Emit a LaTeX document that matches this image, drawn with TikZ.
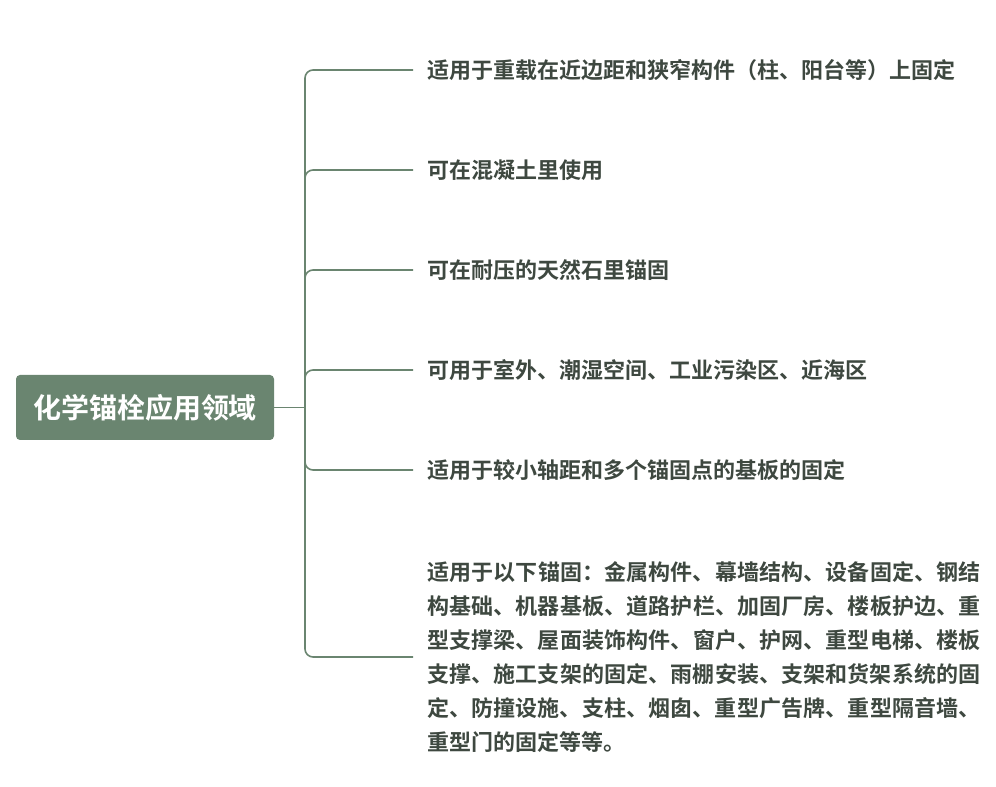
\documentclass[tikz,border=0pt]{standalone}
\usepackage{fontspec}
\setmainfont{Noto Sans CJK SC}[BoldFont={Noto Sans CJK SC Bold}]
\XeTeXlinebreaklocale "zh"
\XeTeXlinebreakskip=0pt plus 1pt
\definecolor{rootc}{RGB}{106,133,112}
\definecolor{linec}{RGB}{106,133,112}
\definecolor{txtc}{RGB}{62,72,64}
\begin{document}
\begin{tikzpicture}[x=0.75pt,y=-0.75pt,
  leaf/.style={anchor=west,inner sep=0pt,text=txtc,font=\fontsize{16.5pt}{25.5pt}\selectfont\bfseries},
  conn/.style={draw=linec,line width=1.2pt,rounded corners=6pt}]
\useasboundingbox (0,0) rectangle (996,787);
\node[fill=rootc,rounded corners=3pt,minimum width=258*0.75pt,minimum height=65*0.75pt,text=white,font=\fontsize{21pt}{24pt}\selectfont\bfseries] (root) at (145,407.5) {化学锚栓应用领域};
\coordinate (j) at (305,407.5);
\node[leaf] (a) at (427,70) {适用于重载在近边距和狭窄构件（柱、阳台等）上固定};
\node[leaf] (b) at (427,170) {可在混凝土里使用};
\node[leaf] (c) at (427,270) {可在耐压的天然石里锚固};
\node[leaf] (d) at (427,370) {可用于室外、潮湿空间、工业污染区、近海区};
\node[leaf] (e) at (427,470) {适用于较小轴距和多个锚固点的基板的固定};
\node[leaf,text width=415pt,align=justify] (f) at (427,657) {适用于以下锚固：金属构件、幕墙结构、设备固定、钢结构基础、机器基板、道路护栏、加固厂房、楼板护边、重型支撑梁、屋面装饰构件、窗户、护网、重型电梯、楼板支撑、施工支架的固定、雨棚安装、支架和货架系统的固定、防撞设施、支柱、烟囱、重型广告牌、重型隔音墙、重型门的固定等等。};
\draw[conn] (root.east) -- (j);
\foreach \n/\y in {a/70,b/170,c/270,d/370,e/470,f/657}
  \draw[conn] (j) -- (305,\y) -- (413,\y);
\end{tikzpicture}
\end{document}
